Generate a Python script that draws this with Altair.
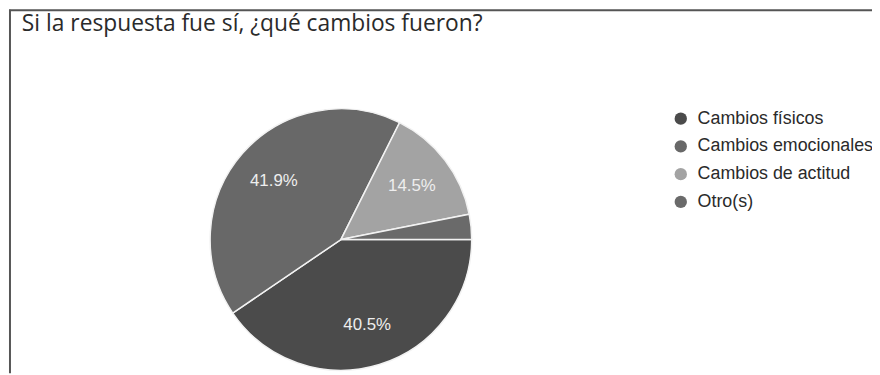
import math
import altair as alt
import pandas as pd

categories = ["Cambios físicos", "Cambios emocionales", "Cambios de actitud", "Otro(s)"]
values = [40.5, 41.9, 14.5, 3.1]
labels = ["40.5%", "41.9%", "14.5%", ""]
colors = ["#4b4b4b", "#686868", "#a3a3a3", "#6a6a6a"]
title_text = "Si la respuesta fue sí, ¿qué cambios fueron?"

df = pd.DataFrame({"cat": categories, "value": values, "label": labels, "idx": list(range(len(categories)))})

W, H = 872, 367
CX, CY, R = 336, 232, 132

theta_scale = alt.Scale(range=[math.pi / 2, math.pi / 2 + 2 * math.pi])
color_scale = alt.Scale(domain=categories, range=colors)

base = alt.Chart(df)

pie = base.mark_arc(stroke="#f2f2f2", strokeWidth=1.5, outerRadius=R).encode(
    theta=alt.Theta("value:Q", stack=True, scale=theta_scale),
    color=alt.Color(
        "cat:N",
        scale=color_scale,
        sort=categories,
        legend=alt.Legend(
            title=None,
            orient="none",
            legendX=670,
            legendY=101,
            symbolType="circle",
            symbolSize=155,
            symbolStrokeWidth=0,
            labelFontSize=18,
            labelFont="Liberation Sans",
            labelColor="#2a2a2a",
            labelOffset=8,
            labelLimit=400,
            rowPadding=10,
        ),
    ),
    order=alt.Order("idx:Q"),
    x=alt.value(CX),
    y=alt.value(CY),
)

text = base.mark_text(
    radius=90, fontSize=17, font="Liberation Sans", color="#eeeeee"
).encode(
    theta=alt.Theta("value:Q", stack=True, scale=theta_scale),
    text="label:N",
    order=alt.Order("idx:Q"),
    x=alt.value(CX),
    y=alt.value(CY),
)

title = alt.Chart(pd.DataFrame({"t": [title_text]})).mark_text(
    align="left", baseline="alphabetic", fontSize=23, font="Open Sans", color="#2a2a2a"
).encode(x=alt.value(14), y=alt.value(22), text="t:N")

frame_top = alt.Chart(pd.DataFrame({"a": [0]})).mark_rule(color="#555555", strokeWidth=2).encode(
    x=alt.value(1), x2=alt.value(W), y=alt.value(0.5)
)
frame_left = alt.Chart(pd.DataFrame({"a": [0]})).mark_rule(color="#555555", strokeWidth=2).encode(
    x=alt.value(2), y=alt.value(0), y2=alt.value(H)
)

chart = alt.layer(pie, text, title, frame_top, frame_left).properties(
    width=W, height=H, autosize=alt.AutoSizeParams(type="none"), padding=0
).configure_view(stroke=None)

chart.save("out.html", embed_options={"renderer": "svg", "actions": False})
